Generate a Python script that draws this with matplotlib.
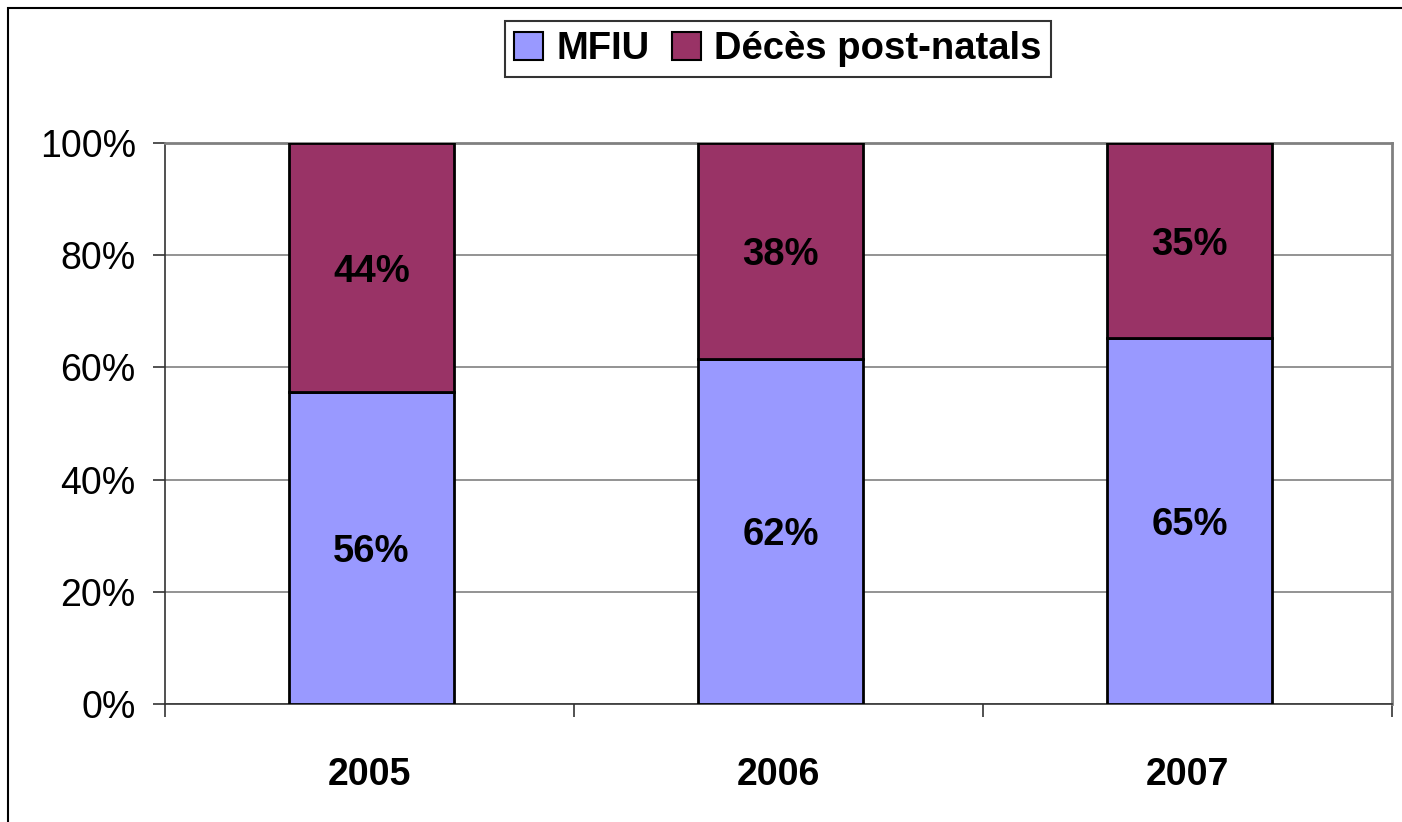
#importing the required libraries
import numpy as np
import matplotlib
matplotlib.use('Agg')
from matplotlib import pyplot as plt
from matplotlib.patches import Rectangle, Patch

plt.rcParams['font.family'] = ['Liberation Sans', 'DejaVu Sans']

#data
years = ['2005', '2006', '2007']
mfiu = [55.6, 61.5, 65.2]
deces = [44.4, 38.5, 34.8]
mfiu_labels = ['56%', '62%', '65%']
deces_labels = ['44%', '38%', '35%']
y_ticks = [0, 20, 40, 60, 80, 100]

fig = plt.figure(figsize=(14.02, 8.22), dpi=100)
ax = fig.add_axes([165/1402, 1-704/822, (1392-165)/1402, (704-143)/822])

x = np.arange(len(years))
ax.bar(x + 0.005, mfiu, width=0.405, color='#9999FF', edgecolor='black', linewidth=2, zorder=3)
ax.bar(x + 0.005, deces, width=0.405, bottom=mfiu, color='#993366', edgecolor='black', linewidth=2, zorder=3)

#bar labels in the middle of each segment
for i in range(len(years)):
    ax.text(x[i] + 0.005, mfiu[i]/2, mfiu_labels[i], ha='center', va='center_baseline',
            fontsize=27.5, fontweight='bold', zorder=4)
    ax.text(x[i] + 0.005, mfiu[i] + deces[i]/2, deces_labels[i], ha='center', va='center_baseline',
            fontsize=27.5, fontweight='bold', zorder=4)

ax.set_xlim(-0.5, 2.5)
ax.set_ylim(0, 100)
ax.set_yticks(y_ticks)
ax.set_yticklabels([str(t) + '%' for t in y_ticks], fontsize=27)
ax.set_xticks(x)
ax.set_xticklabels(years, fontsize=27, fontweight='bold')
ax.set_xticks([-0.5, 0.5, 1.5, 2.5], minor=True)
ax.tick_params(axis='x', which='major', length=0, pad=38)
ax.tick_params(axis='x', which='minor', length=9, width=1.2, direction='out', color='#333333')
ax.tick_params(axis='y', length=9, width=1.2, direction='out', pad=12, color='#333333')

ax.grid(axis='y', color='#808080', linewidth=1.2, zorder=0)
ax.spines['left'].set_color('#333333')
ax.spines['bottom'].set_color('#333333')
ax.spines['left'].set_linewidth(1.2)
ax.spines['bottom'].set_linewidth(1.2)
ax.spines['right'].set_color('#808080')
ax.spines['top'].set_color('#808080')
ax.spines['right'].set_linewidth(2)
ax.spines['top'].set_linewidth(2)

#legend on top
handles = [Patch(facecolor='#9999FF', edgecolor='black', linewidth=1.5),
           Patch(facecolor='#993366', edgecolor='black', linewidth=1.5)]
leg = fig.legend(handles, ['MFIU', 'Décès post-natals'], loc='center',
                 bbox_to_anchor=(778/1402, 1-49/822), ncol=2, fancybox=False,
                 prop={'size': 27.5, 'weight': 'bold'}, handlelength=0.75, handleheight=0.75,
                 handletextpad=0.35, columnspacing=0.6, borderpad=0.25, borderaxespad=0)
leg.get_frame().set_edgecolor('black')
leg.get_frame().set_linewidth(1.5)

#outer border of the figure (only left and top visible)
fig.patches.append(Rectangle((8/1402, -0.1), 1.2, 1.1 - 8/822, transform=fig.transFigure,
                             fill=False, edgecolor='black', linewidth=1.5))

plt.savefig('out.png', dpi=100)
